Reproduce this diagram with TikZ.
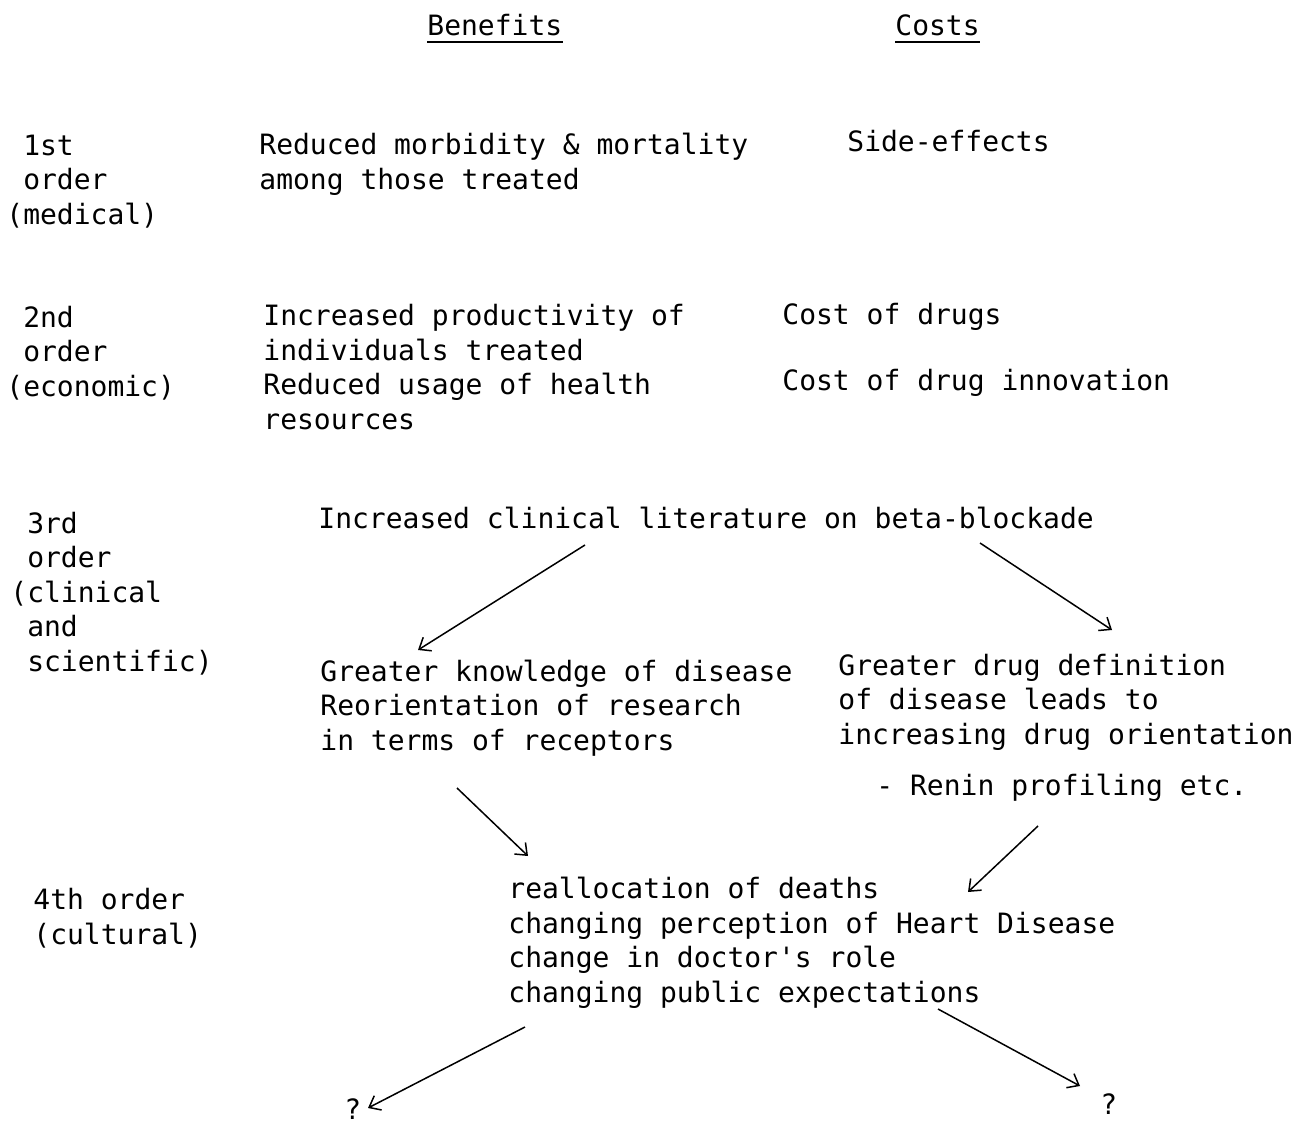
\documentclass[tikz,border=0pt]{standalone}
\usepackage{fontspec}
\newfontfamily\typewriter{DejaVu Sans Mono}
\usetikzlibrary{arrows.meta}
\begin{document}
\begin{tikzpicture}[x=0.5pt,y=-0.5pt,
  % multi-line nodes are placed by the baseline of their last line
  txt/.style={anchor=base west,inner sep=0pt,align=left,
    font={\typewriter\fontsize{14}{17.2}\selectfont}},
  head/.style={txt},
  rule/.style={line width=1.2pt},
  flow/.style={line width=0.75pt,-{Straight Barb[length=5pt,width=8pt,line width=0.75pt]}}]
\useasboundingbox[fill=white] (0,0) rectangle (1298,1124);

% column headings
\node[head] (ben) at (427,35) {Benefits};
\node[head] (cst) at (895,35) {Costs};
\draw[rule] (ben.west |- 0,42) -- (ben.east |- 0,42);
\draw[rule] (cst.west |- 0,42) -- (cst.east |- 0,42);

% order labels
\node[txt] (o1) at (6,224) {\phantom{(}1st\\\phantom{(}order\\(medical)};
\node[txt] (o2) at (6,396) {\phantom{(}2nd\\\phantom{(}order\\(economic)};
\node[txt] (o3) at (10,671) {\phantom{(}3rd\\\phantom{(}order\\(clinical\\\phantom{(}and\\\phantom{(}scientific)};
\node[txt] (o4) at (33,944) {4th order\\(cultural)};

% first order
\node[txt] (b1) at (259,189) {Reduced morbidity \& mortality\\among those treated};
\node[txt] (c1) at (847,151) {Side-effects};

% second order
\node[txt] (b2) at (263,429) {Increased productivity of\\individuals treated\\Reduced usage of health\\resources};
\node[txt] (c2a) at (782,324) {Cost of drugs};
\node[txt] (c2b) at (782,390) {Cost of drug innovation};

% third order
\node[txt] (lit) at (318,528) {Increased clinical literature on beta-blockade};
\node[txt] (know) at (320,750) {Greater knowledge of disease\\Reorientation of research\\in terms of receptors};
\node[txt] (drug) at (838,744) {Greater drug definition\\of disease leads to\\increasing drug orientation};
\node[txt] (renin) at (876,795) {- Renin profiling etc.};

% fourth order
\node[txt] (cult) at (508,1002) {reallocation of deaths\\changing perception of Heart Disease\\change in doctor's role\\changing public expectations};
\node[txt] (q1) at (344,1119) {?};
\node[txt] (q2) at (1100,1114) {?};

% arrow end points
\coordinate (a1s) at (585,545);  \coordinate (a1e) at (418,650);
\coordinate (a2s) at (980,543);  \coordinate (a2e) at (1112,630);
\coordinate (a3s) at (457,788);  \coordinate (a3e) at (528,856);
\coordinate (a4s) at (1038,826); \coordinate (a4e) at (968,892);
\coordinate (a5s) at (525,1027); \coordinate (a5e) at (368,1108);
\coordinate (a6s) at (938,1009); \coordinate (a6e) at (1080,1086);

\draw[flow] (a1s) -- (a1e);
\draw[flow] (a2s) -- (a2e);
\draw[flow] (a3s) -- (a3e);
\draw[flow] (a4s) -- (a4e);
\draw[flow] (a5s) -- (a5e);
\draw[flow] (a6s) -- (a6e);
\end{tikzpicture}
\end{document}
